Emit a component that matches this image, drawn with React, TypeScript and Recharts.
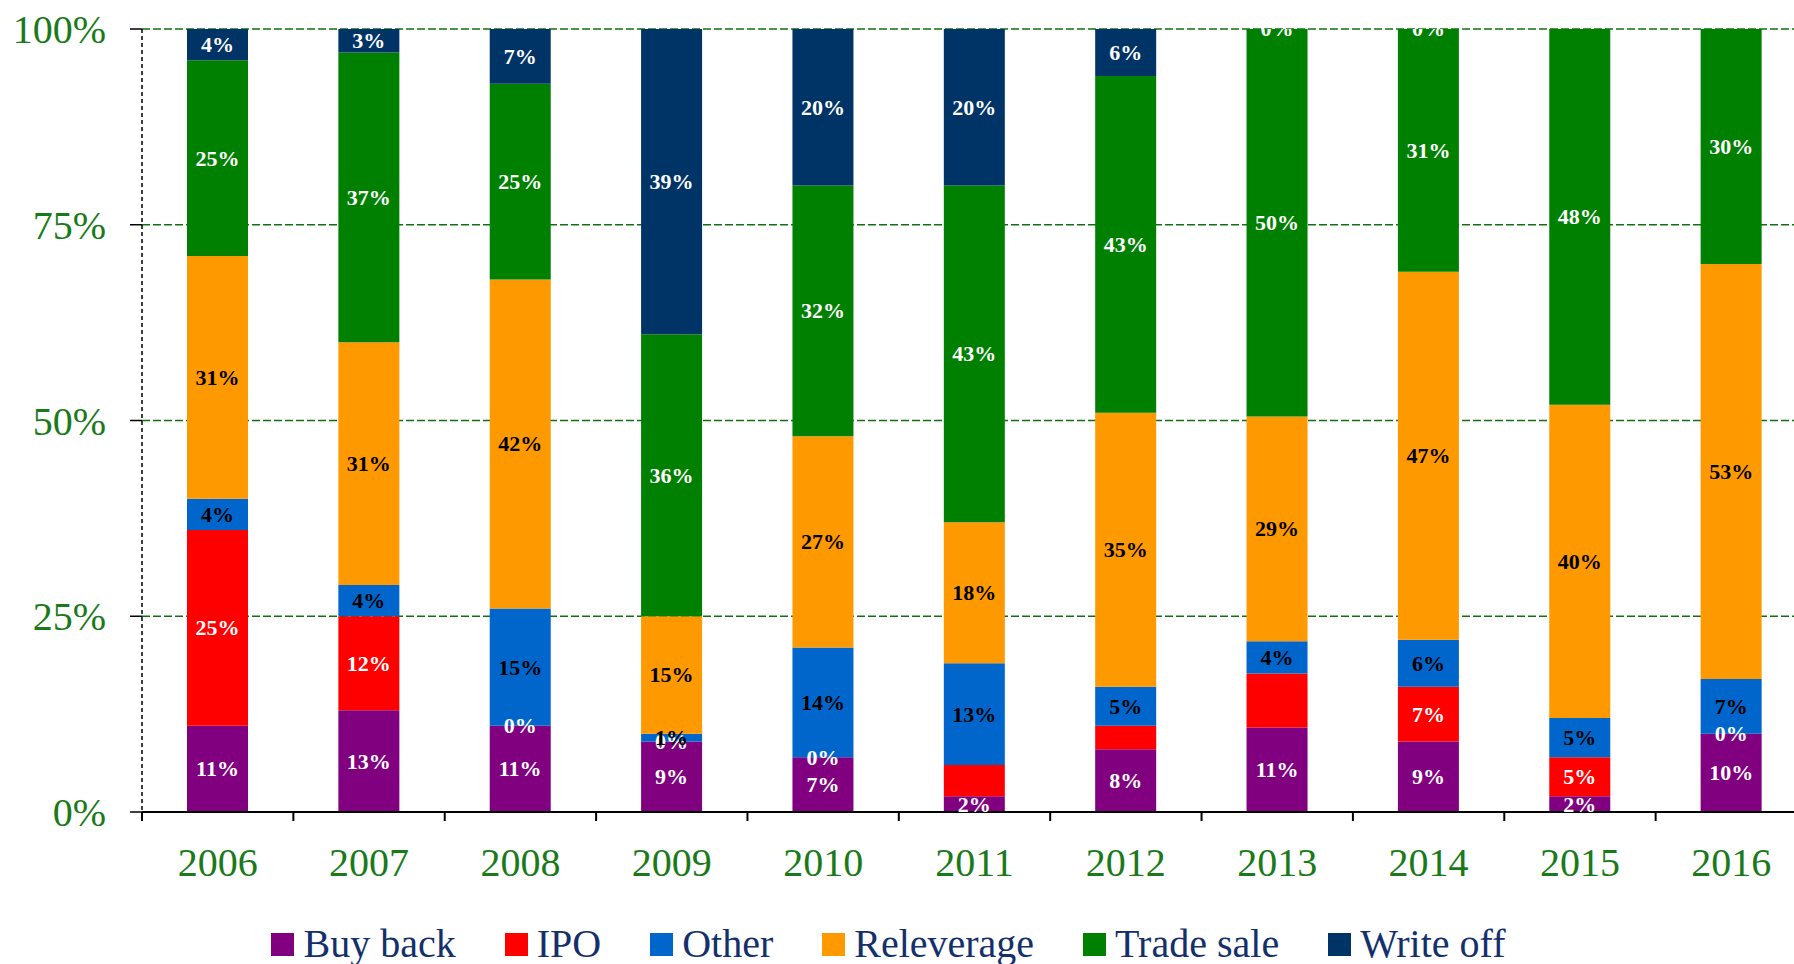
import { Bar, BarChart, CartesianGrid, LabelList, Legend, XAxis, YAxis } from "recharts";

const years = ["2006", "2007", "2008", "2009", "2010", "2011", "2012", "2013", "2014", "2015", "2016"];
const buyBack = [11, 13, 11, 9, 7, 2, 8, 10.8, 9, 2, 10];
const ipo = [25, 12, 0, 0, 0, 4, 3, 6.9, 7, 5, 0];
const other = [4, 4, 15, 1, 14, 13, 5, 4.1, 6, 5, 7];
const releverage = [31, 31, 42, 15, 27, 18, 35, 28.7, 47, 40, 53];
const tradeSale = [25, 37, 25, 36, 32, 43, 43, 49.5, 31, 48, 30];
const writeOff = [4, 3, 7, 39, 20, 20, 6, 0, 0, null, null];
const yTicks = [0, 25, 50, 75, 100];
// the source shows no value label on these segments
const hiddenLabels: Record<string, string[]> = { ipo: ["2011", "2012", "2013"] };

const series = [
  { key: "buyBack", name: "Buy back", color: "#800080", text: "#ffffff", values: buyBack },
  { key: "ipo", name: "IPO", color: "#ff0000", text: "#ffffff", values: ipo },
  { key: "other", name: "Other", color: "#0066cc", text: "#000000", values: other },
  { key: "releverage", name: "Releverage", color: "#ff9900", text: "#000000", values: releverage },
  { key: "tradeSale", name: "Trade sale", color: "#008000", text: "#ffffff", values: tradeSale },
  { key: "writeOff", name: "Write off", color: "#003366", text: "#ffffff", values: writeOff },
];

const data = years.map((year, i) => {
  const row: Record<string, string | number | null> = { year };
  series.forEach((s) => {
    row[s.key] = s.values[i];
  });
  return row;
});

const FONT = '"Liberation Serif", "DejaVu Serif", serif';
const AXIS_GREEN = "#1a7a1a";
const GRID_GREEN = "#127012";
const CHART_W = 1807;
const CHART_H = 964;
const MARGIN = { top: 29, right: 0, bottom: 22, left: 0 };
const Y_AXIS_W = 142;
const X_AXIS_H = 80;
const LEGEND_H = 50;
const PLOT_H = CHART_H - MARGIN.top - MARGIN.bottom - X_AXIS_H - LEGEND_H;
const BAND = (CHART_W - Y_AXIS_W) / years.length;

function YearTick(props: any) {
  const { x, y, payload } = props;
  const half = payload.offset ?? BAND / 2;
  return (
    <g>
      <line x1={x - half} x2={x - half} y1={y} y2={y + 9} stroke="#000" strokeWidth={2} />
      <text x={x} y={y + 50} dy="0.35em" textAnchor="middle" fill={AXIS_GREEN} fontSize={40} fontFamily={FONT}>
        {payload.value}
      </text>
    </g>
  );
}

function makeLabel(key: string, color: string) {
  return (props: any) => {
    const { x, y, width, height, value, index } = props;
    if (value === null || value === undefined) return null;
    const year = props.payload?.year ?? years[index];
    if ((hiddenLabels[key] || []).includes(year)) return null;
    return (
      <text
        x={Number(x) + Number(width) / 2}
        y={Number(y) + Number(height) / 2}
        textAnchor="middle"
        dominantBaseline="central"
        fill={color}
        fontSize={22}
        fontWeight="bold"
        fontFamily={FONT}
        clipPath="url(#plotClip)"
      >
        {`${Math.round(Number(value))}%`}
      </text>
    );
  };
}

function LegendContent() {
  return (
    <div
      style={{
        display: "flex",
        justifyContent: "center",
        alignItems: "center",
        height: LEGEND_H,
        paddingRight: 17,
        gap: 49,
      }}
    >
      {series.map((s) => (
        <div key={s.key} style={{ display: "flex", alignItems: "center" }}>
          <span style={{ display: "inline-block", width: 23, height: 23, background: s.color, marginRight: 9 }} />
          <span style={{ fontFamily: FONT, fontSize: 40, lineHeight: "40px", color: "#14306b", whiteSpace: "nowrap" }}>
            {s.name}
          </span>
        </div>
      ))}
    </div>
  );
}

export default function App() {
  return (
    <div style={{ position: "absolute", left: 0, top: 0, width: 1794, height: 964, overflow: "hidden", background: "#fff" }}>
      <BarChart width={CHART_W} height={CHART_H} data={data} margin={MARGIN}>
        <defs>
          <clipPath id="plotClip">
            <rect x={0} y={MARGIN.top} width={CHART_W} height={PLOT_H} />
          </clipPath>
        </defs>
        <CartesianGrid vertical={false} stroke={GRID_GREEN} strokeDasharray="8 3" strokeWidth={1.5} />
        <XAxis
          dataKey="year"
          height={X_AXIS_H}
          tickSize={0}
          tickMargin={0}
          tickLine={false}
          axisLine={{ stroke: "#000", strokeWidth: 2 }}
          tick={<YearTick />}
          interval={0}
        />
        <YAxis
          width={Y_AXIS_W}
          domain={[0, 100]}
          ticks={yTicks}
          tickFormatter={(v) => `${v}%`}
          tickSize={12}
          tickMargin={24}
          tick={{ fill: AXIS_GREEN, fontSize: 40, fontFamily: FONT }}
          tickLine={{ stroke: "#000", strokeWidth: 1.5 }}
          axisLine={{ stroke: "#000", strokeWidth: 1.5, strokeDasharray: "4 3" }}
        />
        <Legend
          verticalAlign="bottom"
          content={<LegendContent />}
          wrapperStyle={{ left: 0, top: 919, width: 1794, height: LEGEND_H }}
        />
        {series.map((s) => (
          <Bar
            key={s.key}
            dataKey={s.key}
            name={s.name}
            stackId="exits"
            fill={s.color}
            barSize={61}
            minPointSize={0.01}
            isAnimationActive={false}
          >
            <LabelList dataKey={s.key} content={makeLabel(s.key, s.text)} />
          </Bar>
        ))}
      </BarChart>
    </div>
  );
}
